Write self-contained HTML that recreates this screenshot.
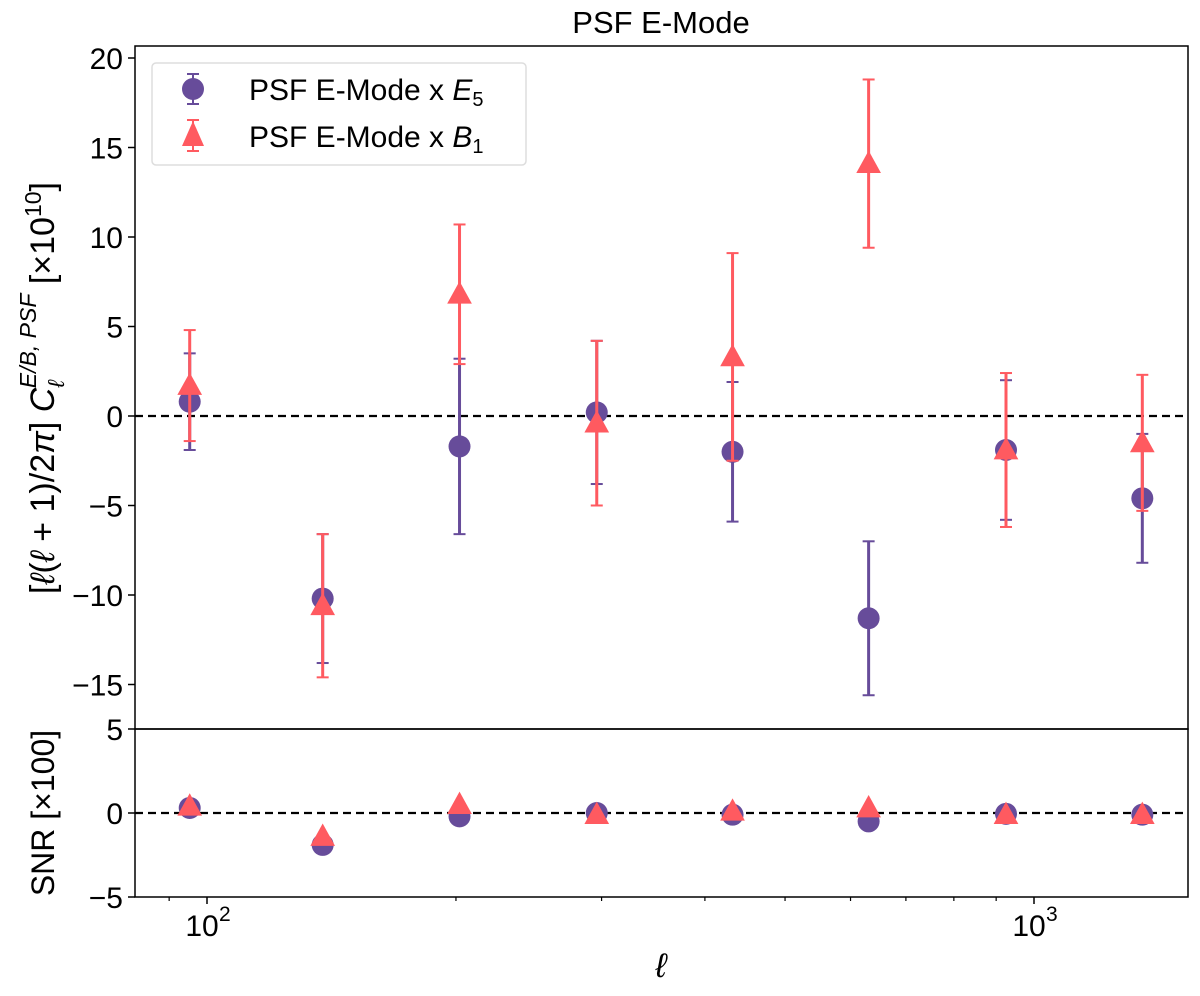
<!DOCTYPE html>
<html><head><meta charset="utf-8"><style>
body{margin:0;background:#fff;}
svg text{font-family:"Liberation Sans","DejaVu Sans",sans-serif;fill:#000;}
</style></head><body>
<svg id="chart" width="1200" height="991" viewBox="0 0 1200 991" xmlns="http://www.w3.org/2000/svg">
<text x="661" y="33" font-size="31" text-anchor="middle">PSF E-Mode</text>
<g id="plot"></g>
<text transform="translate(54,388) rotate(-90)" font-size="34" text-anchor="middle">[<tspan font-style="italic">ℓ</tspan>(<tspan font-style="italic">ℓ</tspan> + 1)/2<tspan font-style="italic">π</tspan>] <tspan font-style="italic">C</tspan><tspan font-style="italic" font-size="23" dy="10">ℓ</tspan><tspan font-style="italic" font-size="23" dy="-28" dx="-8">E/B, PSF</tspan><tspan dy="18"> [×10</tspan><tspan font-size="23" dy="-13">10</tspan><tspan dy="13">]</tspan></text>
<text transform="translate(54,813) rotate(-90)" font-size="32" text-anchor="middle">SNR [×100]</text>
<text x="661" y="977" font-size="34" font-style="italic" text-anchor="middle">ℓ</text>
<g>
<rect x="152" y="63" width="374" height="102" rx="4" fill="#fff" stroke="#ddd" stroke-width="1.5"/>
<g>
<line x1="193" y1="74" x2="193" y2="104" stroke="#674c9a" stroke-width="2"/><line x1="187" y1="74" x2="199" y2="74" stroke="#674c9a" stroke-width="2"/><line x1="187" y1="104" x2="199" y2="104" stroke="#674c9a" stroke-width="2"/>
<circle cx="193" cy="89" r="11" fill="#674c9a"/>
<text x="249" y="100" font-size="30">PSF E-Mode x <tspan font-style="italic">E</tspan><tspan font-size="20" dy="6">5</tspan></text></g>
<g>
<line x1="193" y1="120" x2="193" y2="151" stroke="#ff5a60" stroke-width="2"/><line x1="187" y1="120" x2="199" y2="120" stroke="#ff5a60" stroke-width="2"/><line x1="187" y1="151" x2="199" y2="151" stroke="#ff5a60" stroke-width="2"/>
<polygon points="193,121 204,146 182,146" fill="#ff5a60"/>
<text x="249" y="147" font-size="30">PSF E-Mode x <tspan font-style="italic">B</tspan><tspan font-size="20" dy="6">1</tspan></text></g>
</g>
</svg>
<script>
const ells=[95.3,138,202,296,432,631,925,1352];
const e5Val=[0.8,-10.2,-1.7,0.2,-2.0,-11.3,-1.9,-4.6];
const e5Err=[2.7,3.6,4.9,4.0,3.9,4.3,3.9,3.6];
const b1Val=[1.7,-10.6,6.8,-0.4,3.3,14.1,-1.9,-1.5];
const b1Err=[3.1,4.0,3.9,4.6,5.8,4.7,4.3,3.8];
const e5Snr=[0.3,-1.9,-0.2,0.0,-0.1,-0.5,-0.05,-0.1];
const b1Snr=[0.4,-1.4,0.5,-0.1,0.1,0.3,-0.1,-0.1];
const topTicks=[-15,-10,-5,0,5,10,15,20];
const botTicks=[-5,0,5];
const NS="http://www.w3.org/2000/svg";
const g=document.getElementById('plot');
const L=135,R=1188,T=46,M=729,B=897;
const X=v=>207+827*(Math.log10(v)-2);
const Yt=v=>416-17.9*v;
const Yb=v=>813-16.8*v;
const E5C="#674c9a",B1C="#ff5a60";
function mk(tag,attrs,name,parent){const e=document.createElementNS(NS,tag);for(const k in attrs)e.setAttribute(k,attrs[k]);


(parent||g).appendChild(e);return e;}
mk('line',{x1:L,x2:R,y1:Yt(0),y2:Yt(0),stroke:'#000','stroke-width':2.2,'stroke-dasharray':'8,5'},'zero-line-top');
mk('line',{x1:L,x2:R,y1:Yb(0),y2:Yb(0),stroke:'#000','stroke-width':2.2,'stroke-dasharray':'8,5'},'zero-line-bottom');
topTicks.forEach(t=>{const y=Yt(t);mk('line',{x1:L-7,x2:L,y1:y,y2:y,stroke:'#000','stroke-width':1.5},'y-tick-top');
const tx=mk('text',{x:L-12,y:y+11,'font-size':30,'text-anchor':'end'},'y-tick-label-top');tx.textContent=t<0?'−'+(-t):t;});
botTicks.forEach(t=>{const y=Yb(t);mk('line',{x1:L-7,x2:L,y1:y,y2:y,stroke:'#000','stroke-width':1.5},'y-tick-bottom');
const tx=mk('text',{x:L-12,y:y+11,'font-size':30,'text-anchor':'end'},'y-tick-label-bottom');tx.textContent=t<0?'−'+(-t):t;});
[90,200,300,400,500,600,700,800,900].forEach(v=>{mk('line',{x1:X(v),x2:X(v),y1:B,y2:B+4,stroke:'#000','stroke-width':1.2},'x-minor-tick');});
[100,1000].forEach((v,i)=>{mk('line',{x1:X(v),x2:X(v),y1:B,y2:B+7,stroke:'#000','stroke-width':1.5},'x-major-tick');
const tx=mk('text',{x:X(v)-5,y:B+39,'font-size':30,'text-anchor':'middle'},'x-tick-label');tx.textContent='10';
const s=mk('text',{x:X(v)+12,y:B+24,'font-size':21},'x-tick-exponent');s.textContent=i?'3':'2';});
function tri(cx,cy,s){return `${cx},${cy-s} ${cx+s*0.95},${cy+s*0.72} ${cx-s*0.95},${cy+s*0.72}`;}
function errbar(x,y1,y2,c,name){mk('line',{x1:x,x2:x,y1:y1,y2:y2,stroke:c,'stroke-width':3},name);
mk('line',{x1:x-6,x2:x+6,y1:y1,y2:y1,stroke:c,'stroke-width':2},name+'-cap');
mk('line',{x1:x-6,x2:x+6,y1:y2,y2:y2,stroke:c,'stroke-width':2},name+'-cap');}
ells.forEach((l,i)=>{const x=X(l);errbar(x,Yt(e5Val[i]+e5Err[i]),Yt(e5Val[i]-e5Err[i]),E5C,'errorbar-e5');
mk('circle',{cx:x,cy:Yt(e5Val[i]),r:11,fill:E5C},'point-e5');});
ells.forEach((l,i)=>{const x=X(l);errbar(x,Yt(b1Val[i]+b1Err[i]),Yt(b1Val[i]-b1Err[i]),B1C,'errorbar-b1');
mk('polygon',{points:tri(x,Yt(b1Val[i]),13),fill:B1C},'point-b1');});
ells.forEach((l,i)=>{mk('circle',{cx:X(l),cy:Yb(e5Snr[i]),r:11,fill:E5C},'snr-point-e5');});
ells.forEach((l,i)=>{mk('polygon',{points:tri(X(l),Yb(b1Snr[i]),13),fill:B1C},'snr-point-b1');});
mk('rect',{x:L,y:T,width:R-L,height:M-T,fill:'none',stroke:'#000','stroke-width':1.5},'top-panel-frame');
mk('rect',{x:L,y:M,width:R-L,height:B-M,fill:'none',stroke:'#000','stroke-width':1.5},'bottom-panel-frame');
</script>
</body></html>
